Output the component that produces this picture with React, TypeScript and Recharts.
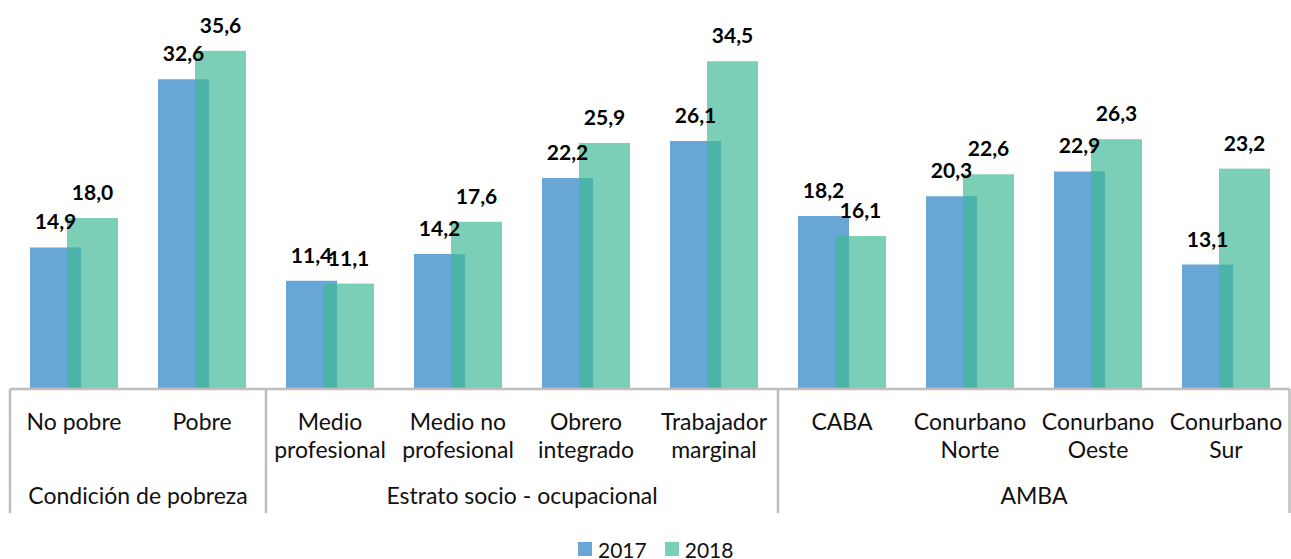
import React from 'react';
import { BarChart, Bar, XAxis, YAxis, LabelList, Legend } from 'recharts';

const categories = [
  'No pobre',
  'Pobre',
  'Medio\nprofesional',
  'Medio no\nprofesional',
  'Obrero\nintegrado',
  'Trabajador\nmarginal',
  'CABA',
  'Conurbano\nNorte',
  'Conurbano\nOeste',
  'Conurbano\nSur',
];
const values2017 = [14.9, 32.6, 11.4, 14.2, 22.2, 26.1, 18.2, 20.3, 22.9, 13.1];
const values2018 = [18.0, 35.6, 11.1, 17.6, 25.9, 34.5, 16.1, 22.6, 26.3, 23.2];
const groupLabels = ['Condición de pobreza', 'Estrato socio - ocupacional', 'AMBA'];
const groupSizes = [2, 4, 4];
const seriesNames = ['2017', '2018'];

const data = categories.map((cat, i) => ({ cat, v2017: values2017[i], v2018: values2018[i] }));
const groupStarts: number[] = [];
groupSizes.reduce((acc, n) => {
  groupStarts.push(acc);
  return acc + n;
}, 0);

const W = 1291;
const H = 559;
const MARGIN = { top: 9, right: 1, left: 10, bottom: 40 };
const BAND = (W - MARGIN.left - MARGIN.right) / categories.length;
const BAR_SIZE = 51;
const OVERLAP = 14;
const FONT = 'Lato, "Noto Sans", sans-serif';
const BLUE = '#68A7D5';
const GREEN = '#7BCFB6';
const TEAL = '#4DB3AA';
const GRID = '#BFBFBF';
const TEXT = '#111111';

const fmt = (v: any) => Number(v).toFixed(1).replace('.', ',');

const CategoryTick = (props: any) => {
  const { x, y, payload } = props;
  const idx = payload.index;
  const lines = String(payload.value).split('\n');
  const elems: any[] = [];
  lines.forEach((l, k) => {
    elems.push(
      <text key={'l' + k} x={x} y={y + 41 + k * 28} textAnchor="middle" fontFamily={FONT} fontSize={23} fill={TEXT}>
        {l}
      </text>
    );
  });
  const gi = groupStarts.indexOf(idx);
  if (gi >= 0) {
    const left = x - BAND / 2;
    elems.push(<line key="sep" x1={left} x2={left} y1={y} y2={y + 124} stroke={GRID} strokeWidth={2.5} />);
    const cx = left + (groupSizes[gi] * BAND) / 2;
    elems.push(
      <text key="grp" x={cx} y={y + 115} textAnchor="middle" fontFamily={FONT} fontSize={23} fill={TEXT}>
        {groupLabels[gi]}
      </text>
    );
  }
  if (idx === categories.length - 1) {
    const right = Math.min(x + BAND / 2, W - 1.5);
    elems.push(<line key="sepr" x1={right} x2={right} y1={y} y2={y + 124} stroke={GRID} strokeWidth={2.5} />);
  }
  return <g>{elems}</g>;
};

const Bar2018Shape = (props: any) => {
  const { x, y, width, height, payload } = props;
  const v = payload.v2018;
  const mn = Math.min(payload.v2017, v);
  const oh = v > 0 ? (height * mn) / v : 0;
  return (
    <g>
      <rect x={x} y={y} width={width} height={height} fill={GREEN} />
      <rect x={x} y={y + height - oh} width={OVERLAP} height={oh} fill={TEAL} />
    </g>
  );
};

const LegendContent = (props: any) => {
  const items = props.payload || [];
  return (
    <div style={{ display: 'flex', alignItems: 'center', marginLeft: 578, height: 24, fontFamily: FONT, fontSize: 21, color: TEXT }}>
      {items.map((e: any, i: number) => (
        <div key={i} style={{ display: 'flex', alignItems: 'center', marginRight: 18 }}>
          <span style={{ display: 'inline-block', width: 14, height: 14, background: e.color, marginRight: 6 }} />
          <span>{e.value}</span>
        </div>
      ))}
    </div>
  );
};

export default function App() {
  return (
    <div style={{ position: 'absolute', left: 0, top: 0, width: W, height: H, background: '#fff' }}>
      <BarChart width={W} height={H} data={data} margin={MARGIN} barGap={-OVERLAP} barSize={BAR_SIZE}>
        <XAxis
          dataKey="cat"
          interval={0}
          height={130}
          tickSize={0}
          tickMargin={0}
          tickLine={false}
          axisLine={{ stroke: GRID, strokeWidth: 2.5 }}
          tick={<CategoryTick />}
        />
        <YAxis hide domain={[0, 40]} />
        <Legend
          verticalAlign="middle"
          layout="horizontal"
          wrapperStyle={{ position: 'absolute', left: 0, top: 537, width: W, height: 24 }}
          content={<LegendContent />}
        />
        <Bar dataKey="v2017" name={seriesNames[0]} fill={BLUE} isAnimationActive={false}>
          <LabelList dataKey="v2017" position="top" offset={18} formatter={fmt} fill="#000" fontSize={21} fontWeight="bold" fontFamily={FONT} />
        </Bar>
        <Bar dataKey="v2018" name={seriesNames[1]} fill={GREEN} isAnimationActive={false} shape={<Bar2018Shape />}>
          <LabelList dataKey="v2018" position="top" offset={18} formatter={fmt} fill="#000" fontSize={21} fontWeight="bold" fontFamily={FONT} />
        </Bar>
      </BarChart>
    </div>
  );
}
